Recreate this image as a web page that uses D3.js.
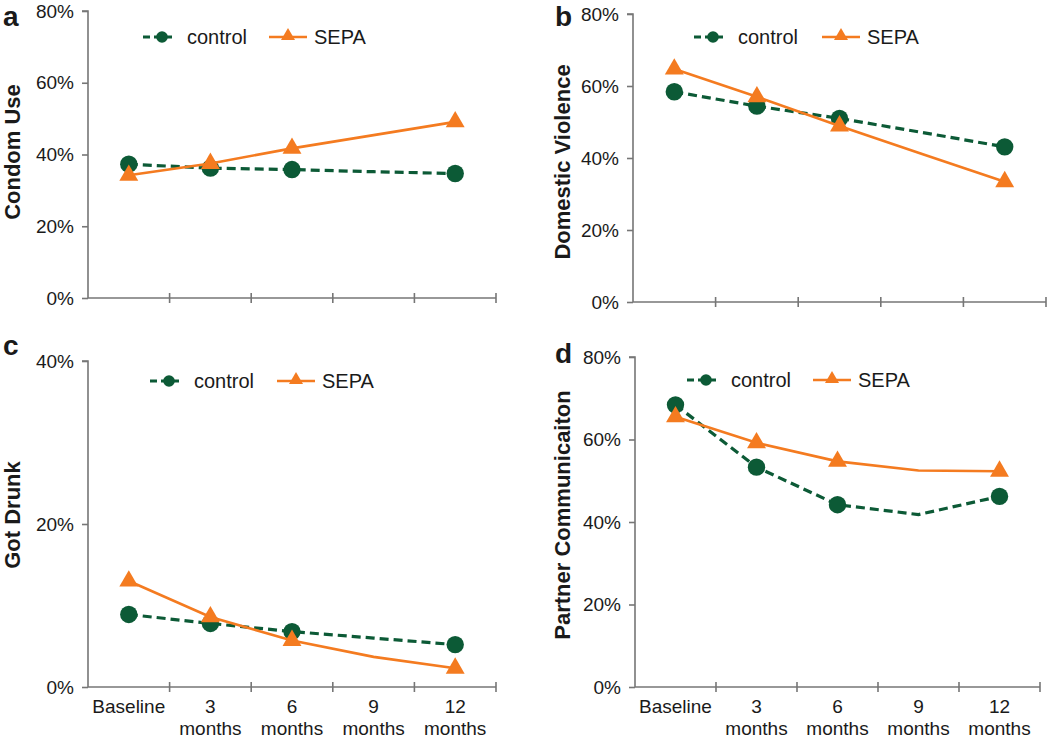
<!DOCTYPE html>
<html>
<head>
<meta charset="utf-8">
<script src="https://cdn.jsdelivr.net/npm/d3@7"></script>
<style>
  html, body { margin: 0; padding: 0; background: #fff; }
  svg { display: block; font-family: "Liberation Sans", Arial, sans-serif; }
</style>
</head>
<body>
<svg id="chart" width="1050" height="739"></svg>
<script>
// ---- data ----
const timepoints = ["Baseline", "3 months", "6 months", "9 months", "12 months"];
const xTickLines = [["Baseline"], ["3", "months"], ["6", "months"], ["9", "months"], ["12", "months"]];
const markerIndex = [0, 1, 2, 4]; // 9 months has no measurement marker
const seriesNames = ["control", "SEPA"];

const condomControl = [37.3, 36.2, 35.8, 35.2, 34.7];
const condomSEPA    = [34.2, 37.5, 41.7, 45.4, 49.1];
const dvControl     = [58.4, 54.4, 51.0, 47.1, 43.1];
const dvSEPA        = [64.7, 57.0, 48.9, 41.1, 33.4];
const drunkControl  = [8.9, 7.8, 6.8, 6.0, 5.2];
const drunkSEPA     = [13.0, 8.6, 5.7, 3.7, 2.3];
const commControl   = [68.4, 53.3, 44.2, 41.8, 46.2];
const commSEPA      = [65.5, 59.2, 54.7, 52.5, 52.3];

const ticks80 = [0, 20, 40, 60, 80];
const ticks40 = [0, 20, 40];

const panelLetters = ["a", "b", "c", "d"];
const yTitles = ["Condom Use", "Domestic Violence", "Got Drunk", "Partner Communicaiton"];

// ---- style ----
const GREEN = "#0c5a36";
const ORANGE = "#f47b20";
const AXIS = "#767676";
const TEXT = "#1a1a1a";

const panels = [
  { letter: panelLetters[0], title: yTitles[0], control: condomControl, sepa: condomSEPA, ticks: ticks80,
    x0: 88, x1: 496, yTop: 11, yBot: 298, letterPos: [3, 26], titlePos: [20, 152],
    legend: { y: 37, lineX: 143, sepaX: 269 }, xLabels: false },
  { letter: panelLetters[1], title: yTitles[1], control: dvControl, sepa: dvSEPA, ticks: ticks80,
    x0: 633, x1: 1046, yTop: 14, yBot: 302, letterPos: [555, 26], titlePos: [570, 162],
    legend: { y: 37, lineX: 694, sepaX: 822 }, xLabels: false },
  { letter: panelLetters[2], title: yTitles[2], control: drunkControl, sepa: drunkSEPA, ticks: ticks40,
    x0: 88, x1: 496, yTop: 361, yBot: 687, letterPos: [3, 355], titlePos: [20, 515],
    legend: { y: 381, lineX: 150, sepaX: 277 }, xLabels: true },
  { letter: panelLetters[3], title: yTitles[3], control: commControl, sepa: commSEPA, ticks: ticks80,
    x0: 635, x1: 1040, yTop: 357, yBot: 687, letterPos: [555, 363], titlePos: [570, 515],
    legend: { y: 380, lineX: 687, sepaX: 813 }, xLabels: true }
];

const svg = d3.select("#chart");
const tri = d3.symbol().type(d3.symbolTriangle).size(155);
const triLegend = d3.symbol().type(d3.symbolTriangle).size(85);

panels.forEach(p => {
  const g = svg.append("g");
  const yMax = d3.max(p.ticks);
  const x = d3.scaleBand().domain(timepoints).range([p.x0, p.x1]);
  const y = d3.scaleLinear().domain([0, yMax]).range([p.yBot, p.yTop]);

  // y axis
  const yAxis = d3.axisLeft(y).tickValues(p.ticks).tickFormat(d => d + "%").tickSize(6).tickPadding(8);
  const ya = g.append("g").attr("transform", `translate(${p.x0},0)`).call(yAxis);
  ya.select(".domain").attr("stroke", AXIS).attr("stroke-width", 1.6).attr("d", `M-6,${p.yTop}H0V${p.yBot}`);
  ya.selectAll(".tick line").attr("stroke", AXIS).attr("stroke-width", 1.6);
  ya.selectAll(".tick text").attr("fill", TEXT).style("font-size", "19px").attr("x", -14);

  // x axis with crossing ticks at band boundaries
  const bounds = timepoints.map(t => x(t)).concat([p.x1]);
  g.append("line").attr("x1", p.x0).attr("x2", p.x1).attr("y1", p.yBot).attr("y2", p.yBot)
    .attr("stroke", AXIS).attr("stroke-width", 1.6);
  g.selectAll(".xt").data(bounds.slice(1)).join("line")
    .attr("x1", d => d).attr("x2", d => d).attr("y1", p.yBot - 5).attr("y2", p.yBot + 5)
    .attr("stroke", AXIS).attr("stroke-width", 1.6);

  if (p.xLabels) {
    timepoints.forEach((t, i) => {
      const txt = g.append("text").attr("x", x(t) + x.bandwidth() / 2).attr("y", p.yBot + 26)
        .attr("text-anchor", "middle").attr("fill", TEXT).style("font-size", "19px");
      xTickLines[i].forEach((ln, j) => {
        txt.append("tspan").attr("x", x(t) + x.bandwidth() / 2).attr("dy", j === 0 ? 0 : 22).text(ln);
      });
    });
  }

  const cx = d => x(d) + x.bandwidth() / 2;
  const line = d3.line().x((d, i) => cx(timepoints[i])).y(d => y(d));

  // control line (dashed) & markers
  g.append("path").datum(p.control).attr("d", line).attr("fill", "none")
    .attr("stroke", GREEN).attr("stroke-width", 3.2).attr("stroke-dasharray", "9,5");
  g.selectAll(".cm").data(markerIndex).join("circle")
    .attr("cx", i => cx(timepoints[i])).attr("cy", i => y(p.control[i])).attr("r", 8.7).attr("fill", GREEN);

  // SEPA line & markers
  g.append("path").datum(p.sepa).attr("d", line).attr("fill", "none")
    .attr("stroke", ORANGE).attr("stroke-width", 2.6);
  g.selectAll(".sm").data(markerIndex).join("path")
    .attr("d", tri).attr("fill", ORANGE)
    .attr("transform", i => `translate(${cx(timepoints[i])},${y(p.sepa[i])})`);

  // legend
  const L = p.legend;
  g.append("line").attr("x1", L.lineX).attr("x2", L.lineX + 31).attr("y1", L.y).attr("y2", L.y)
    .attr("stroke", GREEN).attr("stroke-width", 3.2).attr("stroke-dasharray", "7,4");
  g.append("circle").attr("cx", L.lineX + 19).attr("cy", L.y).attr("r", 5.8).attr("fill", GREEN);
  g.append("text").attr("x", L.lineX + 44).attr("y", L.y).attr("dy", "0.35em")
    .attr("fill", TEXT).style("font-size", "20px").text(seriesNames[0]);
  g.append("line").attr("x1", L.sepaX).attr("x2", L.sepaX + 38).attr("y1", L.y).attr("y2", L.y)
    .attr("stroke", ORANGE).attr("stroke-width", 2.6);
  g.append("path").attr("d", triLegend).attr("fill", ORANGE)
    .attr("transform", `translate(${L.sepaX + 19},${L.y - 1})`);
  g.append("text").attr("x", L.sepaX + 45).attr("y", L.y).attr("dy", "0.35em")
    .attr("fill", TEXT).style("font-size", "20px").text(seriesNames[1]);

  // y title
  g.append("text").attr("transform", `translate(${p.titlePos[0]},${p.titlePos[1]}) rotate(-90)`)
    .attr("text-anchor", "middle").attr("fill", TEXT).style("font-size", "22px").style("font-weight", "bold")
    .text(p.title);

  // panel letter
  g.append("text").attr("x", p.letterPos[0]).attr("y", p.letterPos[1])
    .attr("fill", TEXT).style("font-size", "28px").style("font-weight", "bold").text(p.letter);
});
</script>
</body>
</html>
